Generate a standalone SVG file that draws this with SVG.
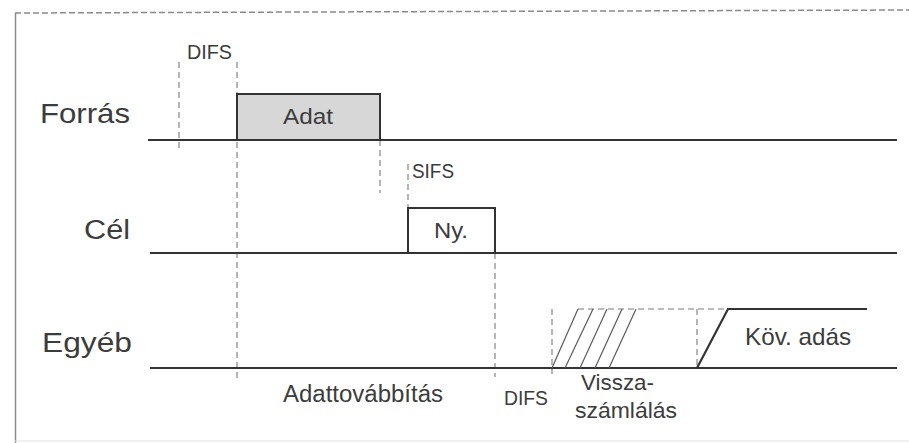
<svg xmlns="http://www.w3.org/2000/svg" width="909" height="443" viewBox="0 0 909 443">
<defs>
<style>
.bg{fill:#ffffff}
.frame{stroke:#8a8a8a;stroke-width:1.5;fill:none}
.frameTop{stroke:#8a8a8a;stroke-width:1.5;stroke-dasharray:6 3;fill:none}
.tl{stroke:#333333;stroke-width:2.2;fill:none}
.dash{stroke:#7a7a7a;stroke-width:1.1;stroke-dasharray:6 4;fill:none}
.hatch{stroke:#5a5a5a;stroke-width:1.2;fill:none}
.box{stroke:#333333;stroke-width:2;}
.lbl{font-family:"Liberation Sans",Arial,sans-serif;fill:#3c3c3c}
</style>
</defs>
<rect class="bg" x="0" y="0" width="909" height="443"/>
<g id="frame">
<line class="frameTop" x1="15" y1="13" x2="909" y2="10"/>
<line class="frame" x1="15.5" y1="13" x2="15.5" y2="443"/>
<line x1="15" y1="441" x2="909" y2="441" stroke="#e2e2e2" stroke-width="1"/>
</g>
<g id="connectors">
<line class="dash" x1="179" y1="62" x2="179" y2="148"/>
<line class="dash" x1="237" y1="62" x2="237" y2="378"/>
<line class="dash" x1="380" y1="140" x2="380" y2="193"/>
<line class="dash" x1="408" y1="164" x2="408" y2="208"/>
<line class="dash" x1="495" y1="253" x2="495" y2="377"/>
<line class="dash" x1="552" y1="309" x2="552" y2="374"/>
<line class="dash" x1="697" y1="309" x2="697" y2="368"/>
<line class="dash" x1="578" y1="309" x2="728" y2="309"/>
</g>
<g id="forras">
<text class="lbl" x="40" y="123" font-size="28" textLength="90" lengthAdjust="spacingAndGlyphs">Forrás</text>
<rect class="box" x="237" y="94" width="143" height="46" fill="#d7d7d7"/>
<text class="lbl" x="283" y="124" font-size="22" textLength="50" lengthAdjust="spacingAndGlyphs">Adat</text>
<line class="tl" x1="148" y1="140" x2="897" y2="140"/>
<text class="lbl" x="187" y="59" font-size="20" textLength="45" lengthAdjust="spacingAndGlyphs">DIFS</text>
<text class="lbl" x="412" y="178" font-size="20" textLength="42" lengthAdjust="spacingAndGlyphs">SIFS</text>
</g>
<g id="cel">
<text class="lbl" x="84" y="239" font-size="27" textLength="46" lengthAdjust="spacingAndGlyphs">Cél</text>
<rect class="box" x="408" y="208" width="87" height="45" fill="#ffffff"/>
<text class="lbl" x="434" y="238" font-size="22" textLength="34" lengthAdjust="spacingAndGlyphs">Ny.</text>
<line class="tl" x1="150" y1="253" x2="897" y2="253"/>
</g>
<g id="egyeb">
<text class="lbl" x="42" y="352" font-size="28" textLength="90" lengthAdjust="spacingAndGlyphs">Egyéb</text>
<line class="tl" x1="150" y1="368" x2="897" y2="368"/>
<line class="hatch" x1="552" y1="368" x2="578" y2="309"/>
<line class="hatch" x1="565" y1="368" x2="593" y2="309"/>
<line class="hatch" x1="580" y1="368" x2="607" y2="309"/>
<line class="hatch" x1="595" y1="368" x2="622" y2="309"/>
<line class="hatch" x1="609" y1="368" x2="636" y2="309"/>
<polyline class="tl" points="697,368 728,309 867,309" stroke-width="2.4"/>
<text class="lbl" x="745" y="345" font-size="24" textLength="106" lengthAdjust="spacingAndGlyphs">Köv. adás</text>
<text class="lbl" x="283" y="402" font-size="23" textLength="160" lengthAdjust="spacingAndGlyphs">Adattovábbítás</text>
<text class="lbl" x="504" y="405" font-size="20" textLength="44" lengthAdjust="spacingAndGlyphs">DIFS</text>
<text class="lbl" x="581" y="390" font-size="22" textLength="73" lengthAdjust="spacingAndGlyphs">Vissza-</text>
<text class="lbl" x="575" y="418" font-size="22" textLength="102" lengthAdjust="spacingAndGlyphs">számlálás</text>
</g>
</svg>
